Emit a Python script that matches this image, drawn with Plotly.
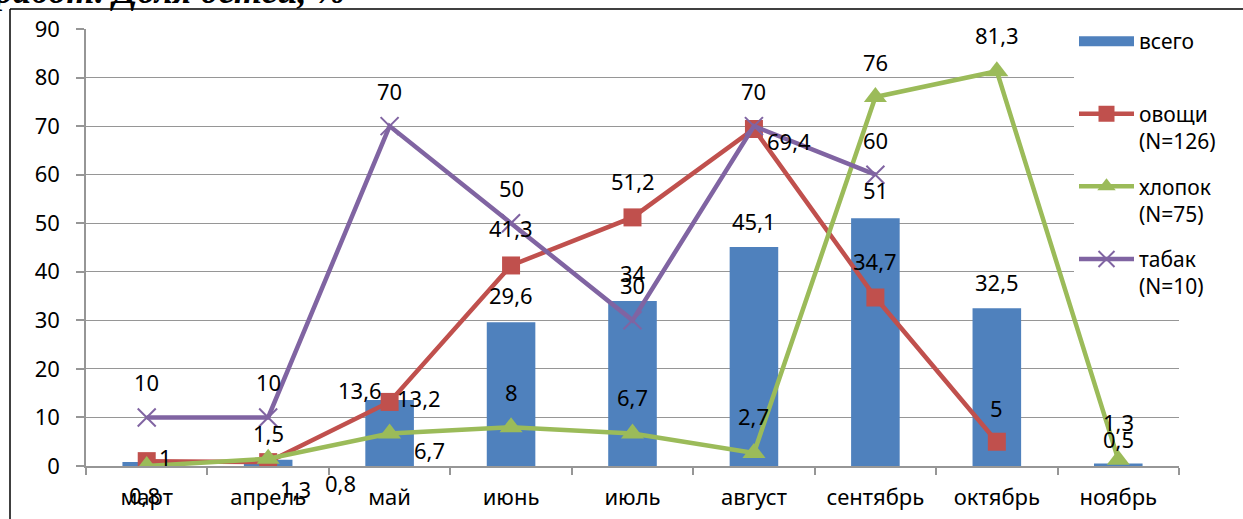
import plotly.graph_objects as go

# ---------------- data ----------------
months = ["март", "апрель", "май", "июнь", "июль", "август", "сентябрь", "октябрь", "ноябрь"]
vsego = [0.8, 1.3, 13.6, 29.6, 34, 45.1, 51, 32.5, 0.5]
ovoshchi = [1, 0.8, 13.2, 41.3, 51.2, 69.4, 34.7, 5, None]
khlopok = [0, 1.5, 6.7, 8, 6.7, 2.7, 76, 81.3, 1.3]
tabak = [10, 10, 70, 50, 30, 70, 60, None, None]
series_names = ["всего", "овощи<br>(N=126)", "хлопок<br>(N=75)", "табак<br>(N=10)"]
title_text = "работ. Доля детей, %"
y_ticks = [0, 10, 20, 30, 40, 50, 60, 70, 80, 90]

# ---------------- style ----------------
BLUE, RED, GREEN, PURPLE = "#4F81BD", "#C0504D", "#9BBB59", "#8064A2"
FONT = "Noto Sans"
W, H = 1243, 519
ML, MR, MT, MB = 86, 64, 29, 53
PW, PH = W - ML - MR, H - MT - MB

# label pixel offsets (xshift, yshift) relative to the point / bar top
bar_off = [(-2, -33), (27, -29), (-30, 10), (0, 27), (0, 28), (0, 26), (0, 28), (0, 26), (0, 25)]
ovo_off = [(19, 4), (72, -21), (29, 4), (0, 37), (0, 36), (35, -12), (0, 37), (0, 34), None]
khl_off = [None, (0, 26), (40, -17), (0, 35), (0, 36), (0, 37), (0, 35), (0, 36), (0, 38)]
tab_off = [(0, 35)] * 7 + [None, None]


def fmt(v):
    return f"{v:g}".replace(".", ",")


def px_x(p):
    return (p - ML) / PW


def px_y(p):
    return 1 + (MT - p) / PH


fig = go.Figure()

fig.add_trace(go.Bar(
    x=months, y=vsego, name="всего", marker=dict(color=BLUE, line=dict(width=0)),
    width=0.4, showlegend=False, legendgroup="g0",
))
# legend-only entry drawn as a wide rectangle like the original
fig.add_trace(go.Scatter(
    x=[months[0]], y=[None], mode="lines", name=series_names[0] + "<br>&nbsp;",
    line=dict(color=BLUE, width=12), legendgroup="g0",
))
fig.add_trace(go.Scatter(
    x=months, y=ovoshchi, name=series_names[1], mode="lines+markers",
    line=dict(color=RED, width=4.5), marker=dict(symbol="square", size=18, color=RED),
    legendgroup="g1",
))
fig.add_trace(go.Scatter(
    x=months, y=khlopok, name=series_names[2], mode="lines+markers",
    line=dict(color=GREEN, width=4.5), marker=dict(symbol="triangle-up", size=20, color=GREEN),
    legendgroup="g2",
))
fig.add_trace(go.Scatter(
    x=months, y=tabak, name=series_names[3], mode="lines+markers",
    line=dict(color=PURPLE, width=4.5),
    marker=dict(symbol="x-thin", size=18, color=PURPLE, line=dict(color=PURPLE, width=2)),
    legendgroup="g3",
))

annotations = []
for vals, offs in [(vsego, bar_off), (ovoshchi, ovo_off), (khlopok, khl_off), (tabak, tab_off)]:
    for m, v, o in zip(months, vals, offs):
        if v is None or o is None:
            continue
        annotations.append(dict(
            x=m, y=v, xref="x", yref="y", text=fmt(v), showarrow=False,
            xshift=o[0], yshift=o[1], xanchor="center", yanchor="middle",
            font=dict(family=FONT, size=22, color="black"),
        ))

annotations.append(dict(
    x=px_x(348), y=px_y(-9), xref="paper", yref="paper", text=title_text,
    showarrow=False, xanchor="right", yanchor="middle",
    font=dict(family="Liberation Serif", size=36, color="black", weight="bold", style="italic"),
))

shapes = [
    dict(type="line", xref="paper", yref="paper", x0=px_x(10), x1=px_x(10), y0=px_y(9), y1=px_y(560),
         line=dict(color="black", width=1.5)),
    dict(type="line", xref="paper", yref="paper", x0=px_x(10), x1=px_x(1260), y0=px_y(9), y1=px_y(9),
         line=dict(color="black", width=1.5)),
]

fig.update_layout(
    width=W, height=H,
    margin=dict(l=ML, r=MR, t=MT, b=MB, autoexpand=False),
    paper_bgcolor="white", plot_bgcolor="white",
    font=dict(family=FONT, size=22, color="black"),
    bargap=0.6,
    annotations=annotations,
    shapes=shapes,
    legend=dict(
        x=px_x(1074), xanchor="left",
        y=px_y(21), yanchor="top", maxheight=420,
        bgcolor="white", font=dict(family=FONT, size=21, color="black"),
        traceorder="grouped", tracegroupgap=15, itemwidth=55, valign="top",
    ),
    xaxis=dict(
        type="category", range=[-0.5, len(months) - 0.5],
        showgrid=False, showline=True, linecolor="#969696", linewidth=1.5,
        ticks="outside", tickson="boundaries", ticklen=7, tickcolor="#969696", tickwidth=1.5,
        tickfont=dict(family=FONT, size=22), ticklabelstandoff=11, automargin=False,
    ),
    yaxis=dict(
        range=[0, 90], tickvals=y_ticks, ticktext=[str(t) for t in y_ticks],
        showgrid=True, gridcolor="#969696", gridwidth=1.3, zeroline=False,
        showline=True, linecolor="#969696", linewidth=1.5,
        ticks="outside", ticklen=8, tickcolor="#969696", tickwidth=1.5,
        tickfont=dict(family=FONT, size=22), ticklabelstandoff=12, automargin=False,
    ),
)

fig.write_html("out.html", post_script="document.body.style.margin='0';",
               config={"displayModeBar": False})
